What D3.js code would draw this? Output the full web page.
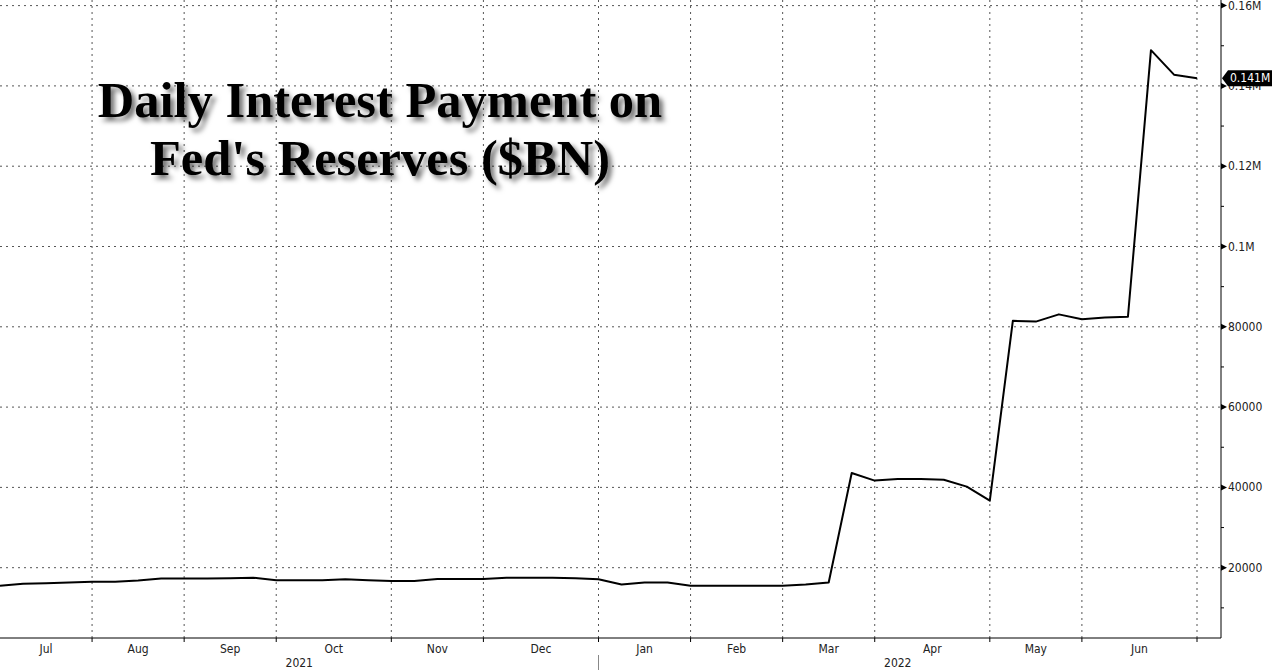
<!DOCTYPE html>
<html><head><meta charset="utf-8">
<script src="https://cdn.jsdelivr.net/npm/d3@7"></script>
<style>body{margin:0;background:#fff}text{font-family:"DejaVu Sans Condensed","DejaVu Sans",sans-serif}</style>
</head><body><svg id="c" width="1272" height="670"></svg>
<script>
// weekly observations, Jul 2021 - Jul 2022
const values = [15500,16000,16100,16300,16500,16500,16800,17300,17300,17300,17400,17500,16900,16900,16900,17100,16900,16700,16700,17200,17200,17200,17500,17500,17500,17400,17100,15800,16300,16300,15500,15500,15500,15500,15500,15800,16300,43600,41700,42100,42100,41900,40200,36700,81500,81300,83100,81900,82300,82500,148900,142800,141900];
const monthTickIdx = [4,8,12,17,21,26,30,34,38,43,47,52];
const monthLabels = ["Jul","Aug","Sep","Oct","Nov","Dec","Jan","Feb","Mar","Apr","May","Jun"];
const yearLabels = [{label:"2021",from:0,to:26},{label:"2022",from:26,to:52}];
const yTicks = [20000,40000,60000,80000,100000,120000,140000,160000];
const yTickLabels = ["20000","40000","60000","80000","0.1M","0.12M","0.14M","0.16M"];
const lastLabel = "0.141M";

const svg = d3.select("#c");
const x = d3.scaleLinear().domain([0,52]).range([0,1197]);
const y = d3.scaleLinear().domain([0,160000]).range([648,5.6]);
const right = 1221, bottom = 638;

const defs = svg.append("defs");
defs.append("clipPath").attr("id","clip").append("rect").attr("x",0).attr("y",0).attr("width",right).attr("height",bottom);
const f = defs.append("filter").attr("id","sh").attr("x","-10%").attr("y","-10%").attr("width","130%").attr("height","140%");
f.append("feDropShadow").attr("dx",4).attr("dy",4).attr("stdDeviation",2.5).attr("flood-color","#000").attr("flood-opacity",0.55);

// grid
svg.append("g").selectAll("line").data(yTicks).join("line")
  .attr("x1",0).attr("x2",right).attr("y1",d=>y(d)).attr("y2",d=>y(d))
  .attr("stroke","#555").attr("stroke-width",1).attr("stroke-dasharray","2,4");
svg.append("g").selectAll("line").data(monthTickIdx).join("line")
  .attr("x1",d=>x(d)).attr("x2",d=>x(d)).attr("y1",0).attr("y2",bottom)
  .attr("stroke","#555").attr("stroke-width",1).attr("stroke-dasharray","2,4");

// line
svg.append("path").datum(values).attr("clip-path","url(#clip)")
  .attr("d",d3.line().x((d,i)=>x(i)).y(d=>y(d)))
  .attr("fill","none").attr("stroke","#000").attr("stroke-width",2).attr("stroke-linejoin","round");

// axes lines
svg.append("line").attr("x1",0).attr("x2",right).attr("y1",bottom).attr("y2",bottom).attr("stroke","#000");
svg.append("line").attr("x1",right).attr("x2",right).attr("y1",0).attr("y2",bottom).attr("stroke","#000");
svg.append("g").selectAll("line").data(monthTickIdx).join("line")
  .attr("x1",d=>x(d)).attr("x2",d=>x(d)).attr("y1",bottom).attr("y2",bottom+4).attr("stroke","#000");

// y minor ticks
const minor = d3.range(10000,160001,20000);
svg.append("g").selectAll("line").data(minor).join("line")
  .attr("x1",right).attr("x2",right+3).attr("y1",d=>y(d)).attr("y2",d=>y(d)).attr("stroke","#000");
// y labels with arrow markers (the 0.14M label sits behind the last-value box, as in the reference)
const shown = yTicks.map((d,i)=>({v:d,l:yTickLabels[i]}));
const yl = svg.append("g");
yl.selectAll("path").data(shown).join("path")
  .attr("d",d=>`M${right},${y(d.v)-3}L${right+6},${y(d.v)}L${right},${y(d.v)+3}Z`).attr("fill","#000");
yl.selectAll("text").data(shown).join("text")
  .attr("x",right+7).attr("y",d=>y(d.v)+4).attr("font-size",12).attr("fill","#222")
  .text(d=>d.l);

// last value label
const ly = y(values[values.length-1]);
svg.append("path").attr("d",`M${right+1},${ly}L${right+7},${ly-8}L1272,${ly-8}L1272,${ly+8}L${right+7},${ly+8}Z`).attr("fill","#000");
svg.append("text").attr("x",right+9).attr("y",ly+4).attr("font-size",12).attr("fill","#fff").text(lastLabel);

// month labels
const bounds = [0].concat(monthTickIdx);
svg.append("g").selectAll("text").data(monthLabels).join("text")
  .attr("x",(d,i)=>(x(bounds[i])+x(bounds[i+1]))/2)
  .attr("y",653).attr("text-anchor","middle").attr("font-size",12).attr("fill","#222").text(d=>d);
svg.append("g").selectAll("text").data(yearLabels).join("text")
  .attr("x",d=>(x(d.from)+x(d.to))/2).attr("y",667).attr("text-anchor","middle").attr("font-size",12).attr("fill","#222").text(d=>d.label);
svg.append("line").attr("x1",x(26)).attr("x2",x(26)).attr("y1",655).attr("y2",670).attr("stroke","#888");

// title
const t = svg.append("g").attr("filter","url(#sh)");
t.append("text").attr("x",380).attr("y",117).attr("text-anchor","middle")
  .style("font-family","'Liberation Serif','Times New Roman',serif").attr("font-weight","bold").attr("font-size",50.5).attr("fill","#000").text("Daily Interest Payment on");
t.append("text").attr("x",380).attr("y",175).attr("text-anchor","middle")
  .style("font-family","'Liberation Serif','Times New Roman',serif").attr("font-weight","bold").attr("font-size",50.5).attr("fill","#000").text("Fed's Reserves ($BN)");
</script></body></html>
